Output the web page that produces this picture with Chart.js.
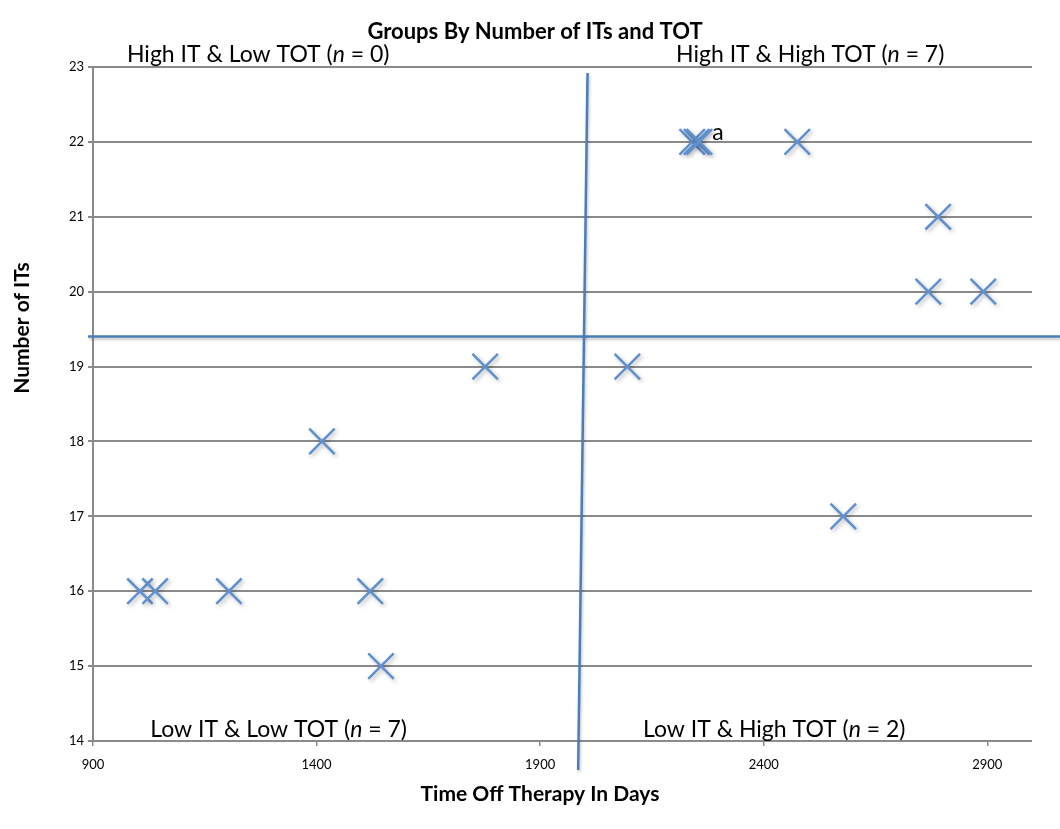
<!DOCTYPE html>
<html>
<head>
<meta charset="utf-8">
<script src="https://cdn.jsdelivr.net/npm/chart.js@4/dist/chart.umd.min.js"></script>
<style>
  html, body { margin: 0; padding: 0; background: #ffffff; }
  #wrap { width: 1060px; height: 829px; }
</style>
</head>
<body>
<div id="wrap"><canvas id="c" width="1060" height="829"></canvas></div>
<script>
// ---- data ----
const daysOffTherapy = [1005, 1039, 1204, 1520, 1412, 1544, 1777, 2095, 2578, 2240, 2250, 2256, 2475, 2790, 2768, 2891];
const numberOfITs    = [16,   16,   16,   16,   18,   15,   19,   19,   17,   22,   22,   22,   22,   21,   20,   20];
const xTickValues = [900, 1400, 1900, 2400, 2900];
const yTickValues = [14, 15, 16, 17, 18, 19, 20, 21, 22, 23];
const chartTitle = 'Groups By Number of ITs and TOT';
const xTitle = 'Time Off Therapy In Days';
const yTitle = 'Number of ITs';
// quadrant labels: [text before italic, italic, text after]
const quadrantLabels = [
  ['High IT & Low TOT (', 'n', ' = 0)'],
  ['High IT & High TOT (', 'n', ' = 7)'],
  ['Low IT & Low TOT (', 'n', ' = 7)'],
  ['Low IT & High TOT (', 'n', ' = 2)']
];
const noteText = 'a';
// divider values (data units)
const dividerX = 2000;
const dividerY = 19.4;

const FONT = 'Lato, "Open Sans", "Noto Sans", sans-serif';
const BLUE = '#4a7ebb';

const points = daysOffTherapy.map((x, i) => ({ x: x, y: numberOfITs[i] }));

function drawRich(ctx, parts, x, y, size) {
  ctx.textBaseline = 'middle';
  ctx.textAlign = 'left';
  let cx = x;
  parts.forEach((p, i) => {
    ctx.font = (i === 1 ? 'italic ' : '') + size + 'px ' + FONT;
    ctx.fillText(p, cx, y);
    cx += ctx.measureText(p).width;
  });
}

const overlay = {
  id: 'overlay',
  beforeDatasetsDraw(chart) {
    const ctx = chart.ctx;
    ctx.save();
    ctx.shadowColor = 'rgba(0,0,0,0.28)';
    ctx.shadowBlur = 4;
    ctx.shadowOffsetX = 2;
    ctx.shadowOffsetY = 2;
  },
  afterDatasetsDraw(chart) {
    chart.ctx.restore();
  },
  afterDraw(chart) {
    const ctx = chart.ctx;
    const xs = chart.scales.x, ys = chart.scales.y;
    const ca = chart.chartArea;
    ctx.save();
    // divider lines
    ctx.strokeStyle = BLUE;
    ctx.lineWidth = 2.5;
    ctx.shadowColor = 'rgba(0,0,0,0.25)';
    ctx.shadowBlur = 3;
    ctx.shadowOffsetX = 1;
    ctx.shadowOffsetY = 2;
    const hy = ys.getPixelForValue(dividerY);
    ctx.beginPath();
    ctx.moveTo(ca.left - 5, hy);
    ctx.lineTo(chart.width, hy);
    ctx.stroke();
    ctx.beginPath();
    ctx.moveTo(xs.getPixelForValue(dividerX + 6), ca.top + 6);
    ctx.lineTo(xs.getPixelForValue(dividerX - 15), ca.bottom + 29);
    ctx.stroke();
    ctx.restore();

    ctx.save();
    ctx.fillStyle = '#000000';
    ctx.textAlign = 'center';
    ctx.textBaseline = 'middle';
    // chart title
    ctx.font = 'bold 22px ' + FONT;
    ctx.fillText(chartTitle, 535, 32);
    // x title
    ctx.font = 'bold 21px ' + FONT;
    ctx.fillText(xTitle, 540, 794);
    // y title
    ctx.save();
    ctx.translate(22, 328);
    ctx.rotate(-Math.PI / 2);
    ctx.fillText(yTitle, 0, 0);
    ctx.restore();
    // quadrant labels
    const top = ca.top - 12, bottom = ca.bottom - 11;
    drawRich(ctx, quadrantLabels[0], xs.getPixelForValue(976), top, 23);
    drawRich(ctx, quadrantLabels[1], xs.getPixelForValue(2204), top, 23);
    drawRich(ctx, quadrantLabels[2], xs.getPixelForValue(1028), bottom, 23);
    drawRich(ctx, quadrantLabels[3], xs.getPixelForValue(2130), bottom, 23);
    ctx.font = '23px ' + FONT;
    ctx.textAlign = 'left';
    ctx.fillText(noteText, xs.getPixelForValue(2285), ys.getPixelForValue(22.13));
    ctx.restore();
  }
};

new Chart(document.getElementById('c'), {
  type: 'scatter',
  data: {
    datasets: [{
      data: points,
      pointStyle: 'crossRot',
      pointRadius: 18,
      pointHoverRadius: 18,
      borderColor: '#5f90cf',
      backgroundColor: '#5f90cf',
      pointBorderWidth: 2.5,
      showLine: false
    }]
  },
  options: {
    responsive: false,
    animation: false,
    events: [],
    layout: { padding: { top: 67, right: 28, left: 0, bottom: 0 } },
    plugins: { legend: { display: false }, title: { display: false }, tooltip: { enabled: false } },
    scales: {
      x: {
        type: 'linear',
        min: 900,
        max: 3000,
        afterBuildTicks: (s) => { s.ticks = xTickValues.map(v => ({ value: v })); },
        afterFit: (s) => { s.height = 88; },
        grid: { drawOnChartArea: false, drawTicks: true, tickLength: 5, color: '#8a8a8a', lineWidth: 1.5 },
        border: { display: false },
        ticks: { color: '#000', font: { family: FONT, size: 13 }, padding: 11, maxRotation: 0, callback: (v) => String(v) }
      },
      y: {
        type: 'linear',
        min: 14,
        max: 23,
        afterBuildTicks: (s) => { s.ticks = yTickValues.map(v => ({ value: v })); },
        afterFit: (s) => { s.width = 93; },
        grid: { drawOnChartArea: true, drawTicks: true, tickLength: 5, color: '#8a8a8a', lineWidth: 2 },
        border: { display: true, color: '#8a8a8a', width: 2 },
        ticks: { color: '#000', font: { family: FONT, size: 13 }, padding: 4, callback: (v) => String(v) }
      }
    }
  },
  plugins: [overlay]
});
</script>
</body>
</html>
